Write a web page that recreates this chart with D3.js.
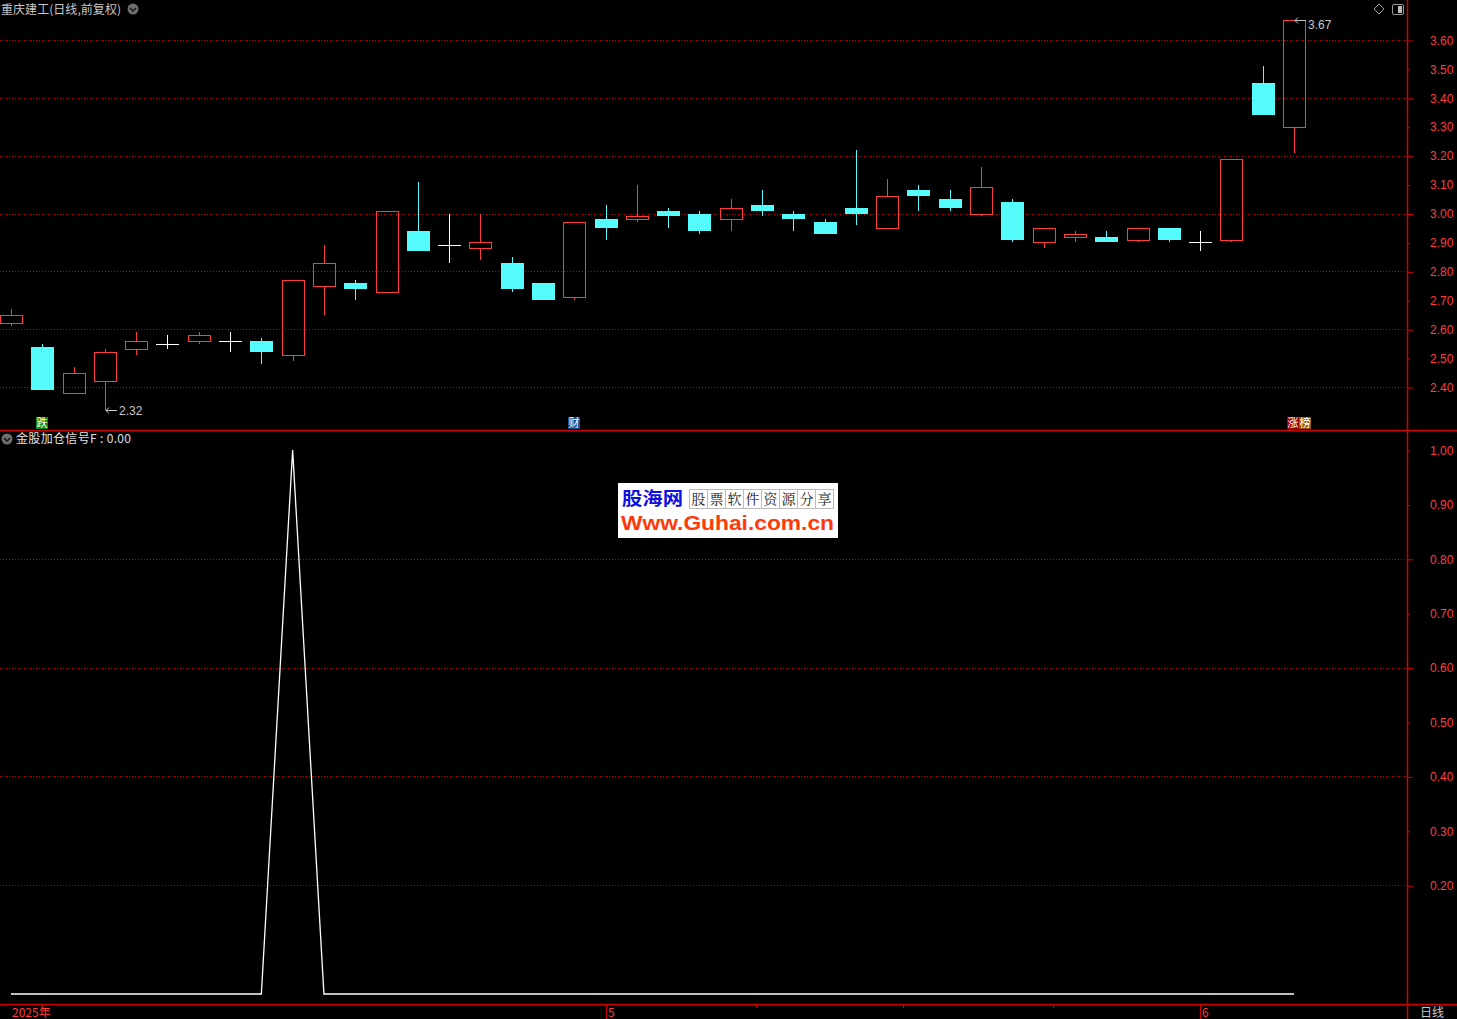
<!DOCTYPE html>
<html><head><meta charset="utf-8">
<script src="https://cdn.jsdelivr.net/npm/d3@7"></script>
<style>html,body{margin:0;padding:0;background:#000;overflow:hidden}svg{display:block}</style>
</head><body>
<script>
// ---------- DATA ----------
const dates = ["2025-04-03","2025-04-07","2025-04-08","2025-04-09","2025-04-10","2025-04-11","2025-04-14","2025-04-15","2025-04-16","2025-04-17",
"2025-04-18","2025-04-21","2025-04-22","2025-04-23","2025-04-24","2025-04-25","2025-04-28","2025-04-29","2025-04-30","2025-05-06",
"2025-05-07","2025-05-08","2025-05-09","2025-05-12","2025-05-13","2025-05-14","2025-05-15","2025-05-16","2025-05-19","2025-05-20",
"2025-05-21","2025-05-22","2025-05-23","2025-05-26","2025-05-27","2025-05-28","2025-05-29","2025-05-30","2025-06-03","2025-06-04",
"2025-06-05","2025-06-06"];
const open  = [2.62,2.54,2.38,2.42,2.53,2.55,2.56,2.56,2.56,2.51,2.75,2.76,2.73,2.94,2.89,2.88,2.83,2.76,2.71,2.98,2.98,3.01,3.00,2.98,3.03,3.00,2.97,3.02,2.95,3.08,3.05,3.00,3.04,2.90,2.92,2.92,2.91,2.95,2.90,2.91,3.45,3.30];
const high  = [2.67,2.55,2.47,2.53,2.59,2.58,2.59,2.59,2.57,2.77,2.89,2.77,3.01,3.11,3.00,3.00,2.85,2.76,2.97,3.03,3.10,3.02,3.01,3.05,3.08,3.01,2.98,3.22,3.12,3.10,3.08,3.16,3.05,2.95,2.94,2.94,2.95,2.95,2.94,3.19,3.51,3.67];
const low   = [2.61,2.39,2.38,2.32,2.51,2.53,2.55,2.52,2.48,2.49,2.65,2.70,2.73,2.87,2.83,2.84,2.73,2.70,2.70,2.91,2.97,2.95,2.93,2.94,2.99,2.94,2.93,2.96,2.95,3.01,3.01,2.99,2.90,2.88,2.90,2.90,2.90,2.90,2.87,2.90,3.34,3.21];
const close = [2.65,2.39,2.45,2.52,2.56,2.55,2.58,2.56,2.52,2.77,2.83,2.74,3.01,2.87,2.89,2.90,2.74,2.70,2.97,2.95,2.99,2.99,2.94,3.02,3.01,2.98,2.93,3.00,3.06,3.06,3.02,3.09,2.91,2.95,2.93,2.90,2.95,2.91,2.90,3.19,3.34,3.67];
const signalF = [0,0,0,0,0,0,0,0,0,1,0,0,0,0,0,0,0,0,0,0,0,0,0,0,0,0,0,0,0,0,0,0,0,0,0,0,0,0,0,0,0,0];
const priceTicks = [2.40,2.50,2.60,2.70,2.80,2.90,3.00,3.10,3.20,3.30,3.40,3.50,3.60];
const priceGrid = [2.40,2.60,2.80,3.00,3.20,3.40,3.60];
const sigTicks = [0.20,0.30,0.40,0.50,0.60,0.70,0.80,0.90,1.00];
const sigGrid = [0.20,0.40,0.60,0.80];
const monthLabels = [{i:0,t:"2025年",major:false},{i:19,t:"5",major:true},{i:38,t:"6",major:true}];
const weekTickPos = [23.8,28.5,33.3];
const markers = [{i:1,chars:[{t:"跌",bg:"#0a8a0a"}]},{i:18,chars:[{t:"财",bg:"#1b4f8f"}]},{i:41,chars:[{t:"涨",bg:"#a00000"},{t:"榜",bg:"#9a5a00"}]}];
const title = "重庆建工(日线,前复权)";
const subTitle = "金股加仓信号F : 0.00";

// ---------- LAYOUT ----------
const W = 1457, H = 1019, axisX = 1407;
const RED = "#d00000", GRID = "#c80000", LBL = "#ff3c3c", TXT = "#c8c8c8";
const UP = "#ff3c3c", DOWN = "#54fcfc";

const svg = d3.select("body").append("svg").attr("width", W).attr("height", H).style("background","#000");

const x = d3.scalePoint().domain(dates).range([11, 1294]);
const xi = d3.scaleLinear().domain([0, dates.length-1]).range([11, 1294]);
const y = d3.scaleLinear().domain([2.40, 3.60]).range([387, 40]);
const y2 = d3.scaleLinear().domain([0, 1]).range([994, 450]);
const bw = 22;
const px = v => Math.round(v) + 0.5;

// gridlines
const g = svg.append("g");
g.selectAll("line.pg").data(priceGrid).join("line")
  .attr("x1",0).attr("x2",axisX).attr("y1",d=>px(y(d))).attr("y2",d=>px(y(d)))
  .attr("stroke",GRID).attr("stroke-dasharray","1,2");
g.selectAll("line.sg").data(sigGrid).join("line")
  .attr("x1",0).attr("x2",axisX).attr("y1",d=>px(y2(d))).attr("y2",d=>px(y2(d)))
  .attr("stroke",GRID).attr("stroke-dasharray","1,2");

// frame lines
svg.append("line").attr("x1",0).attr("x2",W).attr("y1",430.5).attr("y2",430.5).attr("stroke",RED).attr("stroke-width",1.5);
svg.append("line").attr("x1",0).attr("x2",W).attr("y1",1004.5).attr("y2",1004.5).attr("stroke",RED).attr("stroke-width",1.5);
svg.append("line").attr("x1",axisX+0.5).attr("x2",axisX+0.5).attr("y1",0).attr("y2",H).attr("stroke",RED).attr("stroke-width",1.5);

// price axis
const pa = svg.append("g").attr("transform",`translate(${axisX},0)`);
const pax = d3.axisRight(y).tickValues(priceTicks).tickFormat(d3.format(".2f")).tickSize(0);
pa.call(pax); pa.select(".domain").remove();
pa.selectAll(".tick line").remove();
pa.selectAll(".tick").append("line").attr("x1",0).attr("x2",d=>priceGrid.some(v=>Math.abs(v-d)<1e-9)?6:3).attr("y1",0.5).attr("y2",0.5).attr("stroke",RED);
pa.selectAll(".tick text").attr("x",23).attr("dy","0.35em").attr("fill",LBL)
  .style("font-family","'Liberation Sans',Arial,sans-serif").style("font-size","12px");

const sa = svg.append("g").attr("transform",`translate(${axisX},0)`);
sa.call(d3.axisRight(y2).tickValues(sigTicks).tickFormat(d3.format(".2f")).tickSize(0));
sa.select(".domain").remove(); sa.selectAll(".tick line").remove();
sa.selectAll(".tick").append("line").attr("x1",0).attr("x2",d=>sigGrid.some(v=>Math.abs(v-d)<1e-9)?6:3).attr("y1",0.5).attr("y2",0.5).attr("stroke",RED);
sa.selectAll(".tick text").attr("x",23).attr("dy","0.35em").attr("fill",LBL)
  .style("font-family","'Liberation Sans',Arial,sans-serif").style("font-size","12px");

// candles
const cg = svg.append("g");
dates.forEach((d,i)=>{
  const cx = Math.round(x(d));
  const o=open[i], c=close[i], h=high[i], l=low[i];
  const yo = Math.round(y(o)), yc = Math.round(y(c)), yh = Math.round(y(h)), yl = Math.round(y(l));
  if (c > o) {
    if (yh < yc) cg.append("line").attr("x1",cx+0.5).attr("x2",cx+0.5).attr("y1",yh).attr("y2",yc).attr("stroke",UP);
    if (yl > yo) cg.append("line").attr("x1",cx+0.5).attr("x2",cx+0.5).attr("y1",yo).attr("y2",yl).attr("stroke",UP);
    cg.append("rect").attr("x",cx-bw/2+0.5).attr("y",yc+0.5).attr("width",bw).attr("height",Math.max(1,yo-yc)).attr("fill","none").attr("stroke",UP);
  } else if (c < o) {
    cg.append("line").attr("x1",cx+0.5).attr("x2",cx+0.5).attr("y1",yh).attr("y2",yl).attr("stroke",DOWN);
    cg.append("rect").attr("x",cx-bw/2).attr("y",yo).attr("width",bw+1).attr("height",Math.max(1,yc-yo)).attr("fill",DOWN);
  } else {
    cg.append("line").attr("x1",cx+0.5).attr("x2",cx+0.5).attr("y1",yh).attr("y2",yl).attr("stroke","#fff");
    cg.append("line").attr("x1",cx-bw/2).attr("x2",cx+bw/2+1).attr("y1",yo+0.5).attr("y2",yo+0.5).attr("stroke","#fff");
  }
});

// high / low annotations
const iMax = d3.maxIndex(high), iMin = d3.minIndex(low);
function annot(i, val, dyText){
  const ax = Math.round(x(dates[i])), ay = Math.round(y(val));
  const a = svg.append("g");
  a.append("path").attr("d",`M${ax+1},${ay+0.5} H${ax+12} M${ax+1},${ay+0.5} l3,-3 M${ax+1},${ay+0.5} l3,3`).attr("stroke",TXT).attr("fill","none");
  a.append("text").attr("x",ax+14).attr("y",ay+dyText).attr("fill",TXT)
   .style("font-family","'Liberation Sans',Arial,sans-serif").style("font-size","12px").text(val.toFixed(2));
}
annot(iMax, high[iMax], 9);
annot(iMin, low[iMin], 5);

// signal markers
markers.forEach(m=>{
  const cx = x(dates[m.i]);
  const n = m.chars.length, cw = 12;
  const x0 = Math.round(cx - n*cw/2 + (n===1?0:5));
  m.chars.forEach((ch,k)=>{
    svg.append("rect").attr("x",x0+k*cw).attr("y",417).attr("width",cw).attr("height",12).attr("fill",ch.bg);
    svg.append("text").attr("x",x0+k*cw+cw/2).attr("y",427).attr("text-anchor","middle").attr("fill","#fff")
      .style("font-family","'Noto Sans CJK SC',sans-serif").style("font-size","11px").text(ch.t);
  });
});

// signal line
const line = d3.line().x((d,i)=>xi(i)).y(d=>y2(d));
svg.append("path").datum(signalF).attr("d",line).attr("fill","none").attr("stroke","#fff").attr("stroke-width",1.3);

// bottom axis
monthLabels.forEach(m=>{
  const mx = Math.round(xi(m.i));
  if (m.major) svg.append("line").attr("x1",mx+0.5).attr("x2",mx+0.5).attr("y1",1004).attr("y2",H).attr("stroke",RED);
  svg.append("text").attr("x",m.major?mx+2:12).attr("y",1017).attr("fill",LBL)
    .style("font-family","'Noto Sans CJK SC','Liberation Sans',sans-serif").style("font-size","12px").text(m.t);
});
weekTickPos.forEach(p=>{
  const mx = Math.round(xi(p));
  svg.append("line").attr("x1",mx+0.5).attr("x2",mx+0.5).attr("y1",1004).attr("y2",1008).attr("stroke",RED);
});
svg.append("text").attr("x",1420).attr("y",1017).attr("fill",TXT)
  .style("font-family","'Noto Sans CJK SC',sans-serif").style("font-size","12px").text("日线");

// titles
function circleIcon(cx, cy){
  const c = svg.append("g");
  c.append("circle").attr("cx",cx).attr("cy",cy).attr("r",5.5).attr("fill","#6e6e6e");
  c.append("path").attr("d",`M${cx-3},${cy-1} L${cx},${cy+2} L${cx+3},${cy-1}`).attr("stroke","#111").attr("stroke-width",1.4).attr("fill","none");
}
svg.append("text").attr("x",1).attr("y",14).attr("fill",TXT)
  .style("font-family","'Noto Sans CJK SC',sans-serif").style("font-size","12px").attr("textLength",120).text(title);
circleIcon(133, 9);
circleIcon(7, 439);
svg.append("text").attr("x",16).attr("y",443).attr("fill","#e0e0e0")
  .style("font-family","'Noto Sans CJK SC',sans-serif").style("font-size","12px").attr("textLength",115).text(subTitle);

// top right icons
svg.append("path").attr("d","M1379,4 L1384,9 L1379,14 L1374,9 Z").attr("fill","none").attr("stroke","#9a9a9a");
svg.append("rect").attr("x",1392.5).attr("y",4.5).attr("width",11).attr("height",10).attr("rx",1.5).attr("fill","none").attr("stroke","#9a9a9a");
svg.append("rect").attr("x",1398).attr("y",6).attr("width",4).attr("height",7).attr("fill","#bbb");

// logo
const lg = svg.append("g");
lg.append("rect").attr("x",618).attr("y",483).attr("width",220).attr("height",55).attr("fill","#fff");
lg.append("text").attr("x",622).attr("y",505).attr("fill","#1010e0").style("font-family","'Noto Sans CJK SC',sans-serif")
  .style("font-size","18px").style("font-weight","bold").attr("textLength",61).attr("lengthAdjust","spacingAndGlyphs").text("股海网");
const boxChars = "股票软件资源分享".split("");
boxChars.forEach((ch,k)=>{
  const bx = 689 + k*18;
  lg.append("rect").attr("x",bx+0.5).attr("y",489.5).attr("width",18).attr("height",19).attr("fill","none").attr("stroke","#bbb");
  lg.append("text").attr("x",bx+9.5).attr("y",504).attr("text-anchor","middle").attr("fill","#222")
    .style("font-family","'Noto Serif CJK SC','Noto Sans CJK SC',serif").style("font-size","14px").text(ch);
});
lg.append("text").attr("x",621).attr("y",530).attr("fill","#ff3a0a").style("font-family","'Liberation Sans',Arial,sans-serif")
  .style("font-size","20px").style("font-weight","bold").attr("textLength",213).attr("lengthAdjust","spacingAndGlyphs").text("Www.Guhai.com.cn");
</script>
</body></html>
